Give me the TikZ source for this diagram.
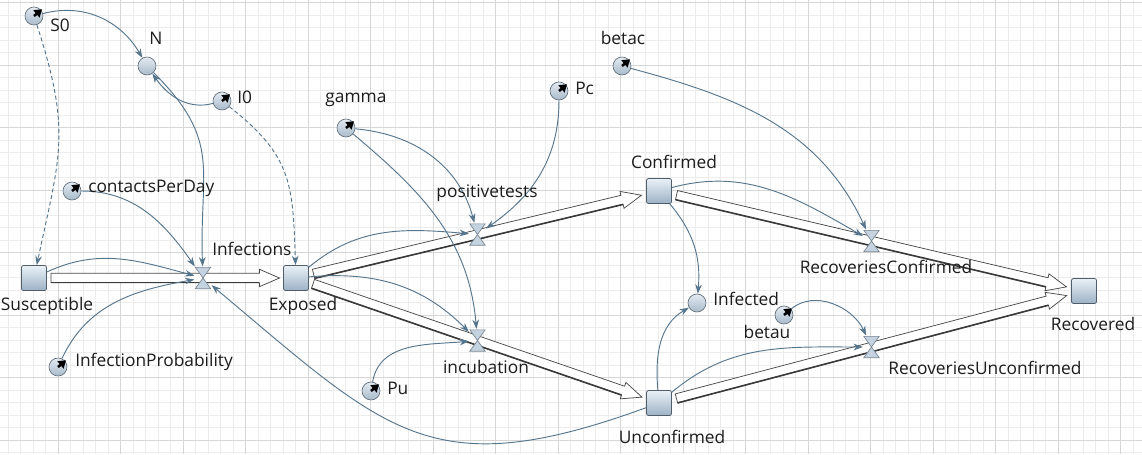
\documentclass[tikz,border=0pt]{standalone}
\usepackage{fontspec}
\setmainfont{Open Sans}
\usepackage{tikz}
\usetikzlibrary{calc}
\usetikzlibrary{arrows.meta}
\definecolor{linkblue}{RGB}{86,118,142}
\definecolor{stockedge}{RGB}{80,94,108}
\definecolor{stocktop}{RGB}{234,241,247}
\definecolor{stockbot}{RGB}{156,178,197}
\definecolor{auxtop}{RGB}{228,235,242}
\definecolor{auxbot}{RGB}{168,186,202}
\definecolor{auxedge}{RGB}{98,112,124}
\definecolor{valvefill}{RGB}{196,211,223}
\definecolor{valveedge}{RGB}{118,133,146}
\definecolor{pipeedge}{RGB}{72,72,72}
\definecolor{gridlight}{RGB}{236,236,236}
\definecolor{griddark}{RGB}{214,214,214}
\definecolor{textgray}{RGB}{28,28,28}
\tikzset{
  gridminor/.style={draw=gridlight, line width=0.75pt},
  gridmajor/.style={draw=griddark, line width=0.75pt},
  stock/.style={rectangle, rounded corners=1.5pt, minimum size=18.75pt, inner sep=0,
    draw=stockedge, line width=0.6pt, top color=stocktop, bottom color=stockbot},
  aux/.style={circle, minimum size=13.5pt, inner sep=0, draw=auxedge, line width=0.5pt,
    top color=auxtop, bottom color=auxbot},
  valve/.style={rectangle, minimum width=12.5pt, minimum height=17pt, inner sep=0,
    path picture={
      \filldraw[fill=valvefill, draw=valveedge, line width=0.5pt]
        ([xshift=0.5pt,yshift=-0.5pt]path picture bounding box.north west)
        -- ([xshift=-0.5pt,yshift=-0.5pt]path picture bounding box.north east)
        -- (path picture bounding box.center) -- cycle;
      \filldraw[fill=valvefill, draw=valveedge, line width=0.5pt]
        ([xshift=0.5pt,yshift=0.5pt]path picture bounding box.south west)
        -- ([xshift=-0.5pt,yshift=0.5pt]path picture bounding box.south east)
        -- (path picture bounding box.center) -- cycle;
    }},
  hand/.style={black, line width=1.9pt, -{Triangle[length=5.5pt,width=7pt]}},
  pipe/.style={fill=white, draw=pipeedge, line width=0.55pt, line join=miter},
  pipeshade/.style={draw=pipeedge!80!black, line width=1.2pt},
  link/.style={draw=linkblue, line width=0.7pt, -{Stealth[length=7pt,width=5pt]}},
  dlink/.style={link, dash pattern=on 3pt off 2pt},
  lbl/.style={text=textgray, inner sep=0, font=\fontsize{13}{15}\selectfont}
}
\newcommand{\flowpipe}[2]{%
  \coordinate (hb) at ($(#2)!15pt!(#1)$);
  \filldraw[pipe] ($(#1)!3.5pt!90:(#2)$) -- ($(hb)!3.5pt!-90:(#1)$)
    -- ($(hb)!6.5pt!-90:(#1)$) -- (#2) -- ($(hb)!6.5pt!90:(#1)$)
    -- ($(hb)!3.5pt!90:(#1)$) -- ($(#1)!3.5pt!-90:(#2)$) -- cycle;
  \draw[pipeshade] ($(#1)!3.5pt!-90:(#2)$) -- ($(hb)!3.5pt!90:(#1)$);
}
\begin{document}
\begin{tikzpicture}[x=0.75pt,y=0.75pt]
\useasboundingbox (0,0) rectangle (1142,-454);
\fill[white] (0,0) rectangle (1142,-454);
% grid
\foreach \gx in {0,...,90} \draw[gridminor] ({8.3+12.5*\gx},0) -- ({8.3+12.5*\gx},-454);
\foreach \gy in {0,...,36} \draw[gridminor] (0,{-2.5-12.5*\gy}) -- (1142,{-2.5-12.5*\gy});
\foreach \gx in {0,...,17} \draw[gridmajor] ({58.3+62.5*\gx},0) -- ({58.3+62.5*\gx},-454);
\foreach \gy in {0,...,7} \draw[gridmajor] (0,{-2.5-62.5*\gy}) -- (1142,{-2.5-62.5*\gy});

% stocks
\node[stock] (Susceptible) at (34,-278) {};
\node[stock] (Exposed) at (296,-278) {};
\node[stock] (Confirmed) at (659,-191) {};
\node[stock] (Unconfirmed) at (659,-403) {};
\node[stock] (Recovered) at (1084,-291) {};

% flows
\coordinate (fSusA) at ($(Susceptible)!12.75pt!(Exposed)$);
\coordinate (fSusB) at ($(Exposed)!12.4pt!(Susceptible)$);
\flowpipe{fSusA}{fSusB}
\coordinate (fConA) at ($(Exposed)!13.5pt!(Confirmed)$);
\coordinate (fConB) at ($(Confirmed)!13.5pt!(Exposed)$);
\flowpipe{fConA}{fConB}
\coordinate (fUncA) at ($(Exposed)!13.5pt!(Unconfirmed)$);
\coordinate (fUncB) at ($(Unconfirmed)!13.5pt!(Exposed)$);
\flowpipe{fUncA}{fUncB}
\coordinate (fRcA) at ($(Confirmed)!13.5pt!(Recovered)$);
\coordinate (fRcB) at ($(Recovered)!13.5pt!(Confirmed)$);
\flowpipe{fRcA}{fRcB}
\coordinate (fRuA) at ($(Unconfirmed)!13.5pt!(Recovered)$);
\coordinate (fRuB) at ($(Recovered)!13.5pt!(Unconfirmed)$);
\flowpipe{fRuA}{fRuB}

% valves
\node[valve] (Infections) at ($(Susceptible)!0.645!(Exposed)$) {};
\node[valve] (positivetests) at ($(Exposed)!0.5!(Confirmed)$) {};
\node[valve] (incubation) at ($(Exposed)!0.5!(Unconfirmed)$) {};
\node[valve] (RecoveriesConfirmed) at ($(Confirmed)!0.5!(Recovered)$) {};
\node[valve] (RecoveriesUnconfirmed) at ($(Unconfirmed)!0.5!(Recovered)$) {};

% parameters and variables
\node[aux] (S0) at (34,-16) {};
\node[aux] (N) at (147,-66) {};
\node[aux] (I0) at (222,-101) {};
\node[aux] (contactsPerDay) at (72,-191) {};
\node[aux] (InfectionProbability) at (58,-367) {};
\node[aux] (gamma) at (346,-128) {};
\node[aux] (Pc) at (559,-91) {};
\node[aux] (betac) at (622,-66) {};
\node[aux] (Pu) at (371,-391) {};
\node[aux] (Infected) at (697,-303) {};
\node[aux] (betau) at (784,-315) {};
\foreach \p in {S0,I0,contactsPerDay,InfectionProbability,gamma,Pc,Pu,betac,betau}
  \draw[hand] (\p.center) -- ($(\p.center)+(40:10.5)$);

% links
\draw[link] (S0) to[out=15,in=120] (N);
\draw[dlink] (S0) to[out=-72,in=78,looseness=1.2] (Susceptible);
\draw[link] (I0) to[out=195,in=-55] (N);
\draw[dlink] (I0) to[out=-38,in=92,looseness=1.2] (Exposed);
\draw[link] (N) to[out=-45,in=92,looseness=1.25] (Infections);
\draw[link] (contactsPerDay) to[out=0,in=125] (Infections);
\draw[link] (Susceptible) to[out=25,in=165] (Infections);
\draw[link] (InfectionProbability) to[out=65,in=190] (Infections);
\draw[link] (Unconfirmed) to[out=200,in=-40,looseness=1.3] (Infections);
\draw[link] (Exposed) to[out=40,in=175] (positivetests);
\draw[link] (Exposed) to[out=5,in=135] (incubation);
\draw[link] (gamma) to[out=-5,in=105] (positivetests);
\draw[link] (gamma) to[out=-40,in=95] (incubation);
\draw[link] (Pc) to[out=-90,in=35] (positivetests);
\draw[link] (Pu) to[out=80,in=185] (incubation);
\draw[link] (betac) to[out=-15,in=115] (RecoveriesConfirmed);
\draw[link] (Confirmed) to[out=15,in=150] (RecoveriesConfirmed);
\draw[link] (Confirmed) to[out=-50,in=85] (Infected);
\draw[link] (Unconfirmed) to[out=95,in=210] (Infected);
\draw[link] (betau) to[out=40,in=115] (RecoveriesUnconfirmed);
\draw[link] (Unconfirmed) to[out=40,in=180] (RecoveriesUnconfirmed);

% labels
\node[lbl, anchor=west] (lS0) at (50,-25) {S0};
\node[lbl] (lN) at (156,-38) {N};
\node[lbl, anchor=west] (lI0) at (237,-97) {I0};
\node[lbl, anchor=west] (lcontactsPerDay) at (88,-188) {contactsPerDay};
\node[lbl, anchor=west] (lInfections) at (212,-249) {Infections};
\node[lbl] (lSusceptible) at (47,-306) {Susceptible};
\node[lbl] (lExposed) at (303,-306) {Exposed};
\node[lbl, anchor=west] (lInfectionProbability) at (75,-362) {InfectionProbability};
\node[lbl] (lgamma) at (356,-100) {gamma};
\node[lbl, anchor=west] (lPc) at (575,-88) {Pc};
\node[lbl] (lbetac) at (623,-38) {betac};
\node[lbl] (lpositivetests) at (487,-193) {positivetests};
\node[lbl] (lincubation) at (486,-367) {incubation};
\node[lbl, anchor=west] (lPu) at (387,-388) {Pu};
\node[lbl] (lConfirmed) at (674,-162) {Confirmed};
\node[lbl] (lUnconfirmed) at (672,-437) {Unconfirmed};
\node[lbl, anchor=west] (lInfected) at (713,-299) {Infected};
\node[lbl] (lbetau) at (767,-332) {betau};
\node[lbl] (lRecoveriesConfirmed) at (886,-267) {RecoveriesConfirmed};
\node[lbl] (lRecoveriesUnconfirmed) at (985,-368) {RecoveriesUnconfirmed};
\node[lbl] (lRecovered) at (1093,-324) {Recovered};
\end{tikzpicture}
\end{document}
